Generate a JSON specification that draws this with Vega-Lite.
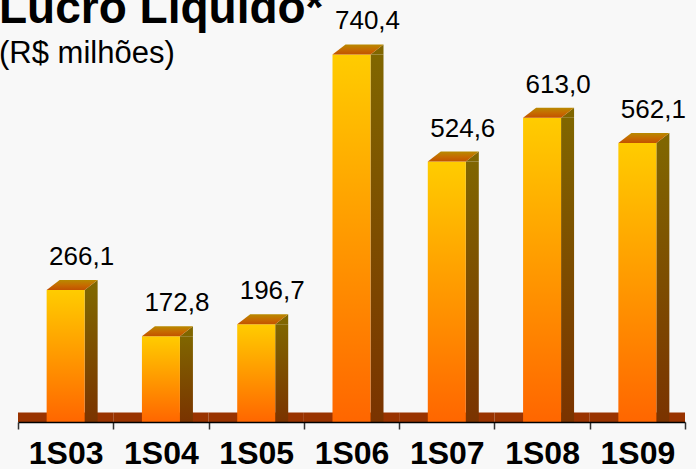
{
  "$schema": "https://vega.github.io/schema/vega-lite/v6.json",
  "width": 667,
  "height": 422,
  "autosize": {"type": "none"},
  "padding": {"left": 18, "top": 0, "right": 11, "bottom": 47},
  "background": "#f8f8f8",
  "title": {
    "text": "Lucro Líquido*",
    "subtitle": "(R$ milhões)",
    "anchor": "start",
    "frame": "group",
    "font": "Liberation Sans",
    "fontSize": 46,
    "fontWeight": "bold",
    "color": "#000000",
    "subtitleFont": "Liberation Sans",
    "subtitleFontSize": 31,
    "subtitleColor": "#000000",
    "subtitlePadding": 6,
    "offset": 0,
    "dx": -19,
    "dy": 70
  },
  "config": {
    "view": {"stroke": null},
    "locale": {"number": {"decimal": ",", "thousands": ".", "grouping": [3], "currency": ["R$", ""]}}
  },
  "data": {
    "values": [
      {"periodo": "1S03", "lucro": 266.1},
      {"periodo": "1S04", "lucro": 172.8},
      {"periodo": "1S05", "lucro": 196.7},
      {"periodo": "1S06", "lucro": 740.4},
      {"periodo": "1S07", "lucro": 524.6},
      {"periodo": "1S08", "lucro": 613.0},
      {"periodo": "1S09", "lucro": 562.1}
    ]
  },
  "encoding": {
    "x": {
      "field": "periodo",
      "type": "nominal",
      "sort": null,
      "scale": {"paddingInner": 0, "paddingOuter": 0},
      "axis": {
        "title": null,
        "labelAngle": 0,
        "labelFont": "Liberation Sans",
        "labelFontWeight": "bold",
        "labelFontSize": 32,
        "labelColor": "#000000",
        "labelPadding": 9,
        "domainColor": "#000000",
        "domainWidth": 1.5,
        "tickColor": "#333333",
        "tickWidth": 1.5,
        "tickSize": 7,
        "tickBand": "extent",
        "zindex": 1
      }
    }
  },
  "layer": [
    {
      "mark": {"type": "bar", "width": {"band": 1}, "color": "#993300"},
      "encoding": {
        "y": {"datum": 19, "type": "quantitative", "scale": {"domain": [0, 850], "nice": false, "zero": true}, "axis": null},
        "y2": {"datum": 0}
      }
    },
    {
      "mark": {
        "type": "bar",
        "width": 13,
        "xOffset": 25.5,
        "color": {"gradient": "linear", "x1": 0, "y1": 0, "x2": 0, "y2": 1,
          "stops": [{"offset": 0, "color": "#806600"}, {"offset": 1, "color": "#7a3300"}]}
      },
      "encoding": {
        "y": {"field": "lucro", "type": "quantitative"},
        "y2": {"datum": 0}
      }
    },
    {
      "mark": {
        "type": "bar",
        "width": 38,
        "color": {"gradient": "linear", "x1": 0, "y1": 0, "x2": 0, "y2": 1,
          "stops": [{"offset": 0, "color": "#ffcc00"}, {"offset": 1, "color": "#ff6600"}]}
      },
      "encoding": {
        "y": {"field": "lucro", "type": "quantitative"},
        "y2": {"datum": 0}
      }
    },
    {
      "mark": {
        "type": "point",
        "shape": "M19,0L32,-10L32,0Z",
        "size": 4,
        "filled": true,
        "opacity": 1,
        "strokeWidth": 0,
        "color": "#806600"
      },
      "encoding": {
        "y": {"field": "lucro", "type": "quantitative"}
      }
    },
    {
      "mark": {
        "type": "point",
        "shape": "M-19,0L19,0L32,-10L-6,-10Z",
        "size": 4,
        "filled": true,
        "opacity": 1,
        "strokeWidth": 0,
        "color": {"gradient": "linear", "x1": 0, "y1": 0, "x2": 0, "y2": 1,
          "stops": [{"offset": 0, "color": "#b88a00"}, {"offset": 0.55, "color": "#c66a00"}, {"offset": 1, "color": "#c25200"}]}
      },
      "encoding": {
        "y": {"field": "lucro", "type": "quantitative"}
      }
    },
    {
      "mark": {
        "type": "text",
        "font": "Liberation Sans",
        "fontSize": 26,
        "color": "#000000",
        "baseline": "alphabetic",
        "align": "center",
        "dx": 16,
        "dy": -25
      },
      "encoding": {
        "y": {"field": "lucro", "type": "quantitative"},
        "text": {"field": "lucro", "type": "quantitative", "format": ".1f"}
      }
    }
  ]
}
